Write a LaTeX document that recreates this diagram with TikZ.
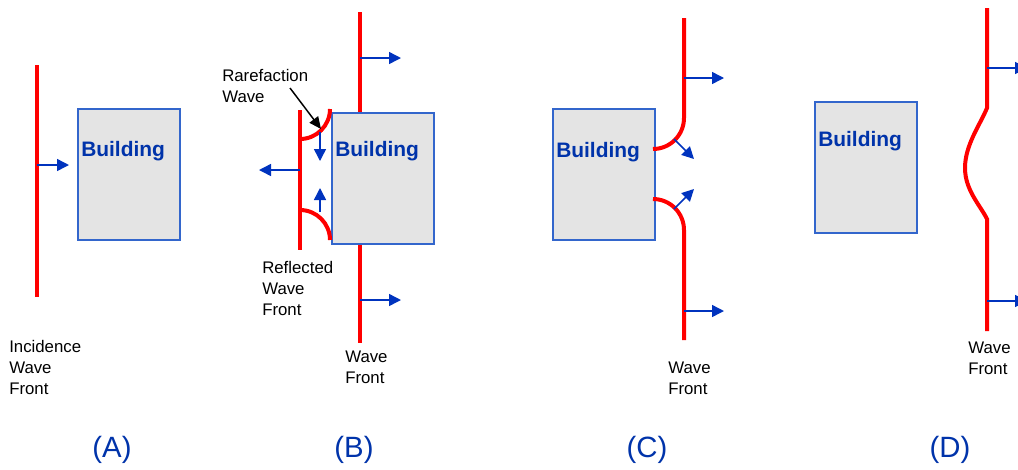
\documentclass[tikz,border=0pt]{standalone}
\usepackage{fontspec}
\setmainfont{Liberation Sans}
\usetikzlibrary{arrows.meta}
\definecolor{wavered}{RGB}{255,0,0}
\definecolor{arrowblue}{RGB}{0,51,190}
\definecolor{textblue}{RGB}{0,51,170}
\definecolor{boxblue}{RGB}{51,102,204}
\definecolor{boxgray}{RGB}{228,228,228}
\tikzset{
  wave/.style={draw=wavered, line width=3pt},
  flow/.style={draw=arrowblue, line width=1.1pt, -{Triangle[length=9pt,width=9pt]}},
  pointer/.style={draw=black, line width=1.1pt, -{Triangle[length=9pt,width=8pt]}},
  bldg/.style={draw=boxblue, fill=boxgray, line width=1.2pt, minimum width=76.5pt, minimum height=98.25pt, inner sep=0pt},
  bldtext/.style={text=textblue, font=\fontsize{15.7}{18}\selectfont\bfseries, inner sep=0pt, anchor=base west},
  lbl/.style={font=\fontsize{12.6}{15.75}\selectfont, align=left, inner sep=0pt, anchor=north west},
  panel/.style={text=textblue, font=\fontsize{22}{26}\selectfont, inner sep=0pt}
}
\begin{document}
\begin{tikzpicture}[x=0.75pt,y=-0.75pt]
\useasboundingbox (0,0) rectangle (1018,469);

% ---------- Panel A ----------
\coordinate (a1) at (37,65);
\coordinate (a2) at (37,297);
\draw[wave] (a1) -- (a2);
\node[bldg, anchor=north west] (bA) at (77,108) {};
\node[bldtext] (tA) at (81,156) {Building};
\coordinate (aa1) at (37,165);
\coordinate (aa2) at (69,165);
\draw[flow] (aa1) -- (aa2);
\node[lbl] (lA) at (9,340) {Incidence\\Wave\\Front};
\node[panel] (pA) at (112,450) {(A)};

% ---------- Panel B ----------
\coordinate (b1) at (360,12);
\coordinate (b2) at (360,343);
\draw[wave] (b1) -- (b2);
\node[bldg, anchor=north west] (bB) at (331,112) {};
\node[bldtext] (tB) at (335,156) {Building};
% reflected wave front
\coordinate (r1) at (300,110);
\coordinate (r2) at (300,250);
\draw[wave] (r1) -- (r2);
\coordinate (ru) at (300,139);
\coordinate (rl) at (300,210);
\draw[wave] (ru) arc[start angle=270, end angle=360, radius=22.5pt];
\draw[wave] (rl) arc[start angle=90, end angle=0, radius=22.5pt];
\coordinate (bf1) at (360,58);
\coordinate (bf2) at (401,58);
\draw[flow] (bf1) -- (bf2);
\coordinate (bf3) at (360,300);
\coordinate (bf4) at (401,300);
\draw[flow] (bf3) -- (bf4);
\coordinate (bl1) at (300,170);
\coordinate (bl2) at (259,170);
\draw[flow] (bl1) -- (bl2);
\coordinate (bd1) at (320,132);
\coordinate (bd2) at (320,161);
\draw[flow] (bd1) -- (bd2);
\coordinate (bu1) at (320,212);
\coordinate (bu2) at (320,188);
\draw[flow] (bu1) -- (bu2);
\node[lbl] (lR) at (222,69) {Rarefaction\\Wave};
\coordinate (rp1) at (290,88);
\coordinate (rp2) at (321,129);
\draw[pointer] (rp1) -- (rp2);
\node[lbl] (lF) at (262,261) {Reflected\\Wave\\Front};
\node[lbl] (lB) at (345,351) {Wave\\Front};
\node[panel] (pB) at (354,450) {(B)};

% ---------- Panel C ----------
\node[bldg, anchor=north west] (bC) at (552,108) {};
\node[bldtext] (tC) at (556,157) {Building};
\coordinate (c1) at (684,18);
\coordinate (c2) at (684,118);
\coordinate (c3) at (684,230);
\coordinate (c4) at (684,340);
\draw[wave] (c1) -- (c2) arc[start angle=0, end angle=-90, radius=23.25pt];
\draw[wave] (c4) -- (c3) arc[start angle=0, end angle=90, radius=23.25pt];
\coordinate (cf1) at (684,78);
\coordinate (cf2) at (724,78);
\draw[flow] (cf1) -- (cf2);
\coordinate (cf3) at (684,311);
\coordinate (cf4) at (724,311);
\draw[flow] (cf3) -- (cf4);
\coordinate (cd1) at (674,139);
\coordinate (cd2) at (694,159);
\draw[flow] (cd1) -- (cd2);
\coordinate (cu1) at (674,209);
\coordinate (cu2) at (694,189);
\draw[flow] (cu1) -- (cu2);
\node[lbl] (lC) at (668,362) {Wave\\Front};
\node[panel] (pC) at (647,450) {(C)};

% ---------- Panel D ----------
\node[bldg, anchor=north west] (bD) at (814,101) {};
\node[bldtext] (tD) at (818,146) {Building};
\coordinate (d1) at (987,8);
\coordinate (d2) at (987,108);
\coordinate (d3) at (987,219);
\coordinate (d4) at (987,331);
\coordinate (dm) at (965,168);
\draw[wave] (d1) -- (d2)
  .. controls (980,125) and (965,145) .. (dm)
  .. controls (965,190) and (980,205) .. (d3) -- (d4);
\coordinate (df1) at (987,68);
\coordinate (df2) at (1027,68);
\draw[flow] (df1) -- (df2);
\coordinate (df3) at (987,301);
\coordinate (df4) at (1027,301);
\draw[flow] (df3) -- (df4);
\node[lbl] (lD) at (968,342) {Wave\\Front};
\node[panel] (pD) at (950,450) {(D)};
\end{tikzpicture}
\end{document}
